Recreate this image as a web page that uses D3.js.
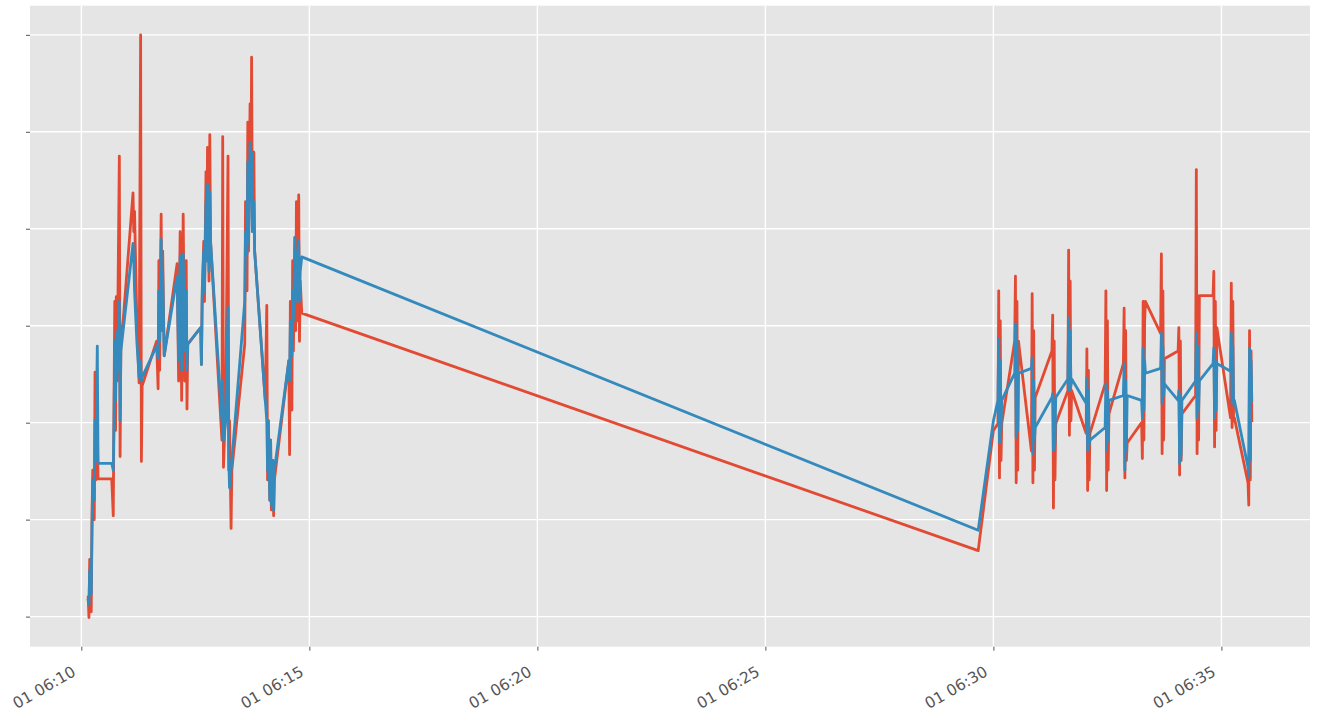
<!DOCTYPE html>
<html><head><meta charset="utf-8">
<script src="https://cdn.jsdelivr.net/npm/d3@7"></script>
<style>body{margin:0;background:#fff} svg{display:block}</style>
</head><body><svg id="c" width="1319" height="716"></svg>
<script>
// seconds elapsed after 06:10:00 on day 01
const elapsedSec = [
 9,10,11,13,14,15,17,18,19,21,22,
 40,42,43,44,45,46,47,48,50,51,52,55,
 68,69,70,73,76,78,79,80,
 99,101,102,103,105,106,107,109,
 126,128,130,132,134,136,138,139,140,
 157,158,159,161,162,164,165,166,168,169,170,
 185,186,187,190,193,194,195,197,198,
 215,216,218,219,220,222,223,224,225,227,228,
 242,244,245,246,248,249,250,252,253,254,
 273,274,275,277,278,279,281,282,283,285,286,287,288,290,
 1180,1200,
 1206,1207,1208,1209,1210,1211,
 1228,1229,1230,1231,1232,1233,
 1250,1251,1252,1253,1254,1255,
 1277,1278,1279,1280,1281,1282,
 1298,1299,1300,1301,1302,1303,
 1322,1323,1324,1325,1326,1327,
 1347,1348,1349,1350,1351,1352,
 1371,1372,1373,1374,1375,1376,
 1395,1396,1397,1398,1399,1400,
 1420,1421,1422,1423,1424,1425,
 1443,1444,1445,1446,1447,1448,
 1466,1467,1468,1469,1470,1471,
 1489,1490,1491,1492,1493,1494,
 1512,1513,1514,1515,1516,1517,
 1535,1536,1537,1538,1539,1540
];
const seriesRed = [
 0.20,-0.01,0.59,0.05,1.00,1.51,1.00,2.52,1.41,1.92,1.42,
 1.42,1.04,2.23,3.25,1.92,3.30,2.43,3.15,4.75,1.65,2.84,3.05,
 4.37,3.97,4.18,3.05,2.41,6.00,1.60,2.38,
 2.84,2.35,3.67,2.54,4.15,2.95,3.77,2.69,
 3.64,2.43,3.97,2.23,4.15,2.43,3.67,2.14,2.81,
 2.98,2.60,3.25,3.87,3.25,4.59,3.67,4.84,3.46,4.97,3.87,
 1.82,4.95,1.54,2.23,4.75,1.51,2.02,0.91,1.51,
 2.81,4.28,3.36,5.10,3.77,5.29,4.28,5.77,4.08,4.79,3.77,
 2.23,3.21,1.41,2.02,1.20,1.82,1.10,1.61,1.04,1.41,
 2.64,1.67,3.25,2.13,3.67,2.74,3.91,2.95,4.28,3.05,4.35,2.84,3.46,3.13,
 0.68,1.92,
 1.99,3.36,1.43,3.05,1.61,1.99,
 2.84,3.51,1.38,3.25,1.51,2.84,
 1.71,3.33,1.38,2.95,1.51,2.26,
 2.74,3.11,1.12,2.84,1.41,1.99,
 2.33,3.78,1.87,3.46,2.02,2.33,
 1.89,2.76,1.30,2.54,1.41,1.89,
 2.40,3.36,1.30,3.05,1.51,2.09,
 2.61,3.18,1.43,2.95,1.61,1.79,
 2.00,1.63,3.25,1.82,3.05,3.25,
 2.92,3.74,1.68,3.36,1.82,2.66,
 2.74,2.98,1.46,2.84,1.61,2.09,
 2.28,4.61,1.68,3.25,1.82,3.31,
 3.31,3.56,1.75,3.25,1.92,2.98,
 2.05,3.44,1.95,3.25,2.02,2.05,
 1.38,1.15,2.95,1.41,2.74,2.02
];
const seriesBlue = [
 0.17,0.12,0.48,0.23,0.89,1.41,1.20,2.02,1.61,2.79,1.58,
 1.58,1.51,2.02,2.84,2.23,2.94,2.54,2.79,3.25,2.02,2.74,2.95,
 3.85,3.67,3.36,2.84,2.47,2.64,2.43,2.47,
 2.79,2.66,3.36,2.84,3.89,2.95,3.56,2.69,
 3.51,2.64,3.72,2.54,3.74,2.74,3.36,2.54,2.81,
 2.98,2.60,3.36,3.77,3.34,4.28,3.67,4.46,3.56,4.38,3.87,
 2.02,2.43,1.82,2.02,3.19,1.61,1.33,1.51,1.61,
 3.25,3.97,3.74,4.69,3.87,4.89,4.28,4.79,3.97,4.28,3.77,
 2.23,2.02,1.51,2.02,1.20,1.82,1.15,1.61,1.10,1.51,
 2.64,2.43,3.05,2.69,3.36,3.05,3.91,3.25,3.77,3.36,3.87,3.25,3.56,3.71,
 0.89,2.02,
 2.23,2.87,1.79,2.64,1.92,2.23,
 2.51,3.02,1.85,2.84,1.92,2.51,
 2.56,2.67,1.68,2.43,1.82,1.95,
 2.26,2.30,1.71,2.23,1.77,2.26,
 2.45,3.08,2.33,2.95,2.38,2.45,
 2.20,2.46,1.71,2.33,1.77,1.82,
 1.95,2.40,1.71,2.33,1.82,2.23,
 2.28,2.61,1.51,2.43,1.71,2.28,
 2.23,2.05,2.77,2.13,2.64,2.51,
 2.56,2.92,2.20,2.79,2.28,2.40,
 2.23,2.33,1.58,2.28,1.66,2.23,
 2.43,2.92,2.05,2.79,2.13,2.43,
 2.61,2.77,2.05,2.64,2.13,2.61,
 2.53,2.92,2.20,2.79,2.23,2.23,
 1.54,1.44,2.77,1.61,2.64,2.23
];
const xTickTimes = ["06:10","06:15","06:20","06:25","06:30","06:35"];
const xTickLabels = ["01 06:10","01 06:15","01 06:20","01 06:25","01 06:30","01 06:35"];
const yTicks = [0,1,2,3,4,5,6];

const base = new Date(2021,0,1,6,10,0);
const toDate = s => new Date(base.getTime() + s*1000);
const parseHM = d3.timeParse("%Y-%m-%d %H:%M");
const tickDates = xTickTimes.map(t => parseHM("2021-01-01 " + t));

const svg = d3.select("#c");
const L = 30, R = 1310, T = 5.7, B = 646.7;

const tExt = d3.extent(elapsedSec);
const tPad = (tExt[1]-tExt[0])*0.05;
const x = d3.scaleTime().domain([toDate(tExt[0]-tPad), toDate(tExt[1]+tPad)]).range([L, R]);
const allV = seriesRed.concat(seriesBlue);
const vExt = d3.extent(allV);
const vPad = (vExt[1]-vExt[0])*0.05;
const y = d3.scaleLinear().domain([vExt[0]-vPad, vExt[1]+vPad]).range([B, T]);

svg.append("rect").attr("x",L).attr("y",T).attr("width",R-L).attr("height",B-T).attr("fill","#E5E5E5");

// grid
svg.append("g").selectAll("line").data(yTicks).join("line")
  .attr("x1",L).attr("x2",R).attr("y1",d=>y(d)).attr("y2",d=>y(d))
  .attr("stroke","#fff").attr("stroke-width",1.4);
svg.append("g").selectAll("line").data(tickDates).join("line")
  .attr("y1",T).attr("y2",B).attr("x1",d=>x(d)).attr("x2",d=>x(d))
  .attr("stroke","#fff").attr("stroke-width",1.4);

// axes
const xAxis = d3.axisBottom(x).tickValues(tickDates)
  .tickFormat((d,i)=>xTickLabels[i]).tickSize(4).tickPadding(2);
const gx = svg.append("g").attr("transform",`translate(0,${B})`).call(xAxis);
gx.select(".domain").remove();
gx.selectAll(".tick line").attr("stroke","#555");
gx.selectAll(".tick text")
  .attr("font-family","DejaVu Sans, sans-serif").attr("font-size",15.5).attr("fill","#555")
  .attr("text-anchor","end").attr("dy",null).attr("y",0)
  .attr("transform","translate(-5,28) rotate(-30)");

const yAxis = d3.axisLeft(y).tickValues(yTicks).tickSize(4).tickFormat("");
const gy = svg.append("g").attr("transform",`translate(${L},0)`).call(yAxis);
gy.select(".domain").remove();
gy.selectAll(".tick line").attr("stroke","#555");

// lines
const idx = d3.range(elapsedSec.length);
const mk = arr => d3.line().x(i=>x(toDate(elapsedSec[i]))).y(i=>y(arr[i]));
svg.append("path").datum(idx).attr("d",mk(seriesRed))
  .attr("fill","none").attr("stroke","#E24A33").attr("stroke-width",2.8)
  .attr("stroke-linejoin","round").attr("stroke-linecap","square");
svg.append("path").datum(idx).attr("d",mk(seriesBlue))
  .attr("fill","none").attr("stroke","#348ABD").attr("stroke-width",2.8)
  .attr("stroke-linejoin","round").attr("stroke-linecap","square");
</script></body></html>
